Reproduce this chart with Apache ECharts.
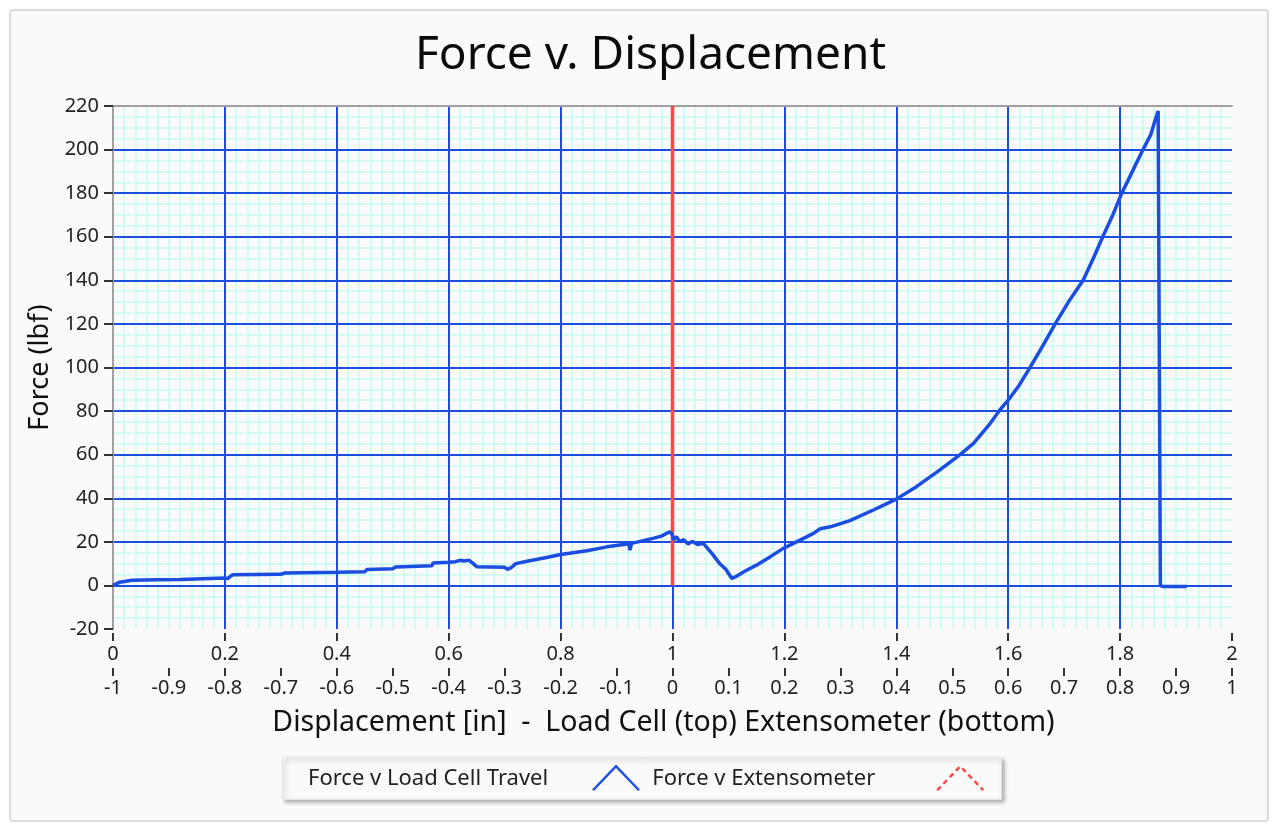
<!DOCTYPE html>
<html>
<head>
<meta charset="utf-8">
<script src="https://cdn.jsdelivr.net/npm/echarts@6/dist/echarts.min.js"></script>
<style>
html,body{margin:0;padding:0;background:#ffffff;}
#chart{width:1278px;height:829px;}
</style>
</head>
<body>
<div id="chart"></div>
<script>
// Force v Load Cell Travel: [load cell travel (in), force (lbf)]
const loadCellTravel = [
  [0,0],[0.005,0.6],[0.012,1.5],[0.02,1.8],[0.034,2.4],[0.08,2.6],[0.12,2.7],[0.123,3.2],
  [0.2,3.4],[0.205,3.1],[0.21,4.2],[0.214,4.9],[0.3,5.1],[0.307,5.7],[0.4,6.0],[0.45,6.3],
  [0.454,7.3],[0.5,7.6],[0.505,8.5],[0.57,9.0],[0.572,10.3],[0.6,10.6],[0.612,10.9],[0.62,11.5],
  [0.628,11.2],[0.636,11.6],[0.642,10.4],[0.65,8.6],[0.7,8.3],[0.705,7.4],[0.712,8.2],[0.72,10.0],
  [0.74,11.1],[0.775,12.8],[0.8,14.2],[0.847,15.9],[0.883,17.7],[0.922,19.1],[0.924,16.2],[0.927,19.3],
  [0.965,21.6],[0.98,22.6],[0.995,24.6],[0.999,23.6],[1.002,21.0],[1.007,22.3],[1.013,20.0],[1.02,21.0],
  [1.028,19.0],[1.035,20.2],[1.045,18.8],[1.055,19.3],[1.07,14.8],[1.085,9.8],[1.095,7.5],[1.106,3.2],
  [1.115,4.3],[1.13,6.6],[1.15,9.3],[1.175,13.2],[1.198,17.0],[1.228,20.8],[1.252,23.9],[1.264,26.0],
  [1.282,26.9],[1.317,29.7],[1.359,34.6],[1.4,39.6],[1.436,45.3],[1.478,53.0],[1.514,60.0],[1.538,65.2],
  [1.568,74.4],[1.585,80.5],[1.6,85.0],[1.62,92.0],[1.639,100.0],[1.662,110.0],[1.684,120.0],[1.71,131.0],
  [1.734,140.0],[1.752,150.0],[1.769,160.0],[1.787,170.0],[1.803,180.0],[1.822,190.0],[1.841,200.0],[1.855,207.0],
  [1.862,213.0],[1.868,217.7],[1.871,217.0],[1.872,0.0],[1.876,-0.5],[1.919,-0.5]
];
// Force v Extensometer: [extensometer displacement (in), force (lbf)]
const extensometer = [[0,0],[0,220]];

const titleText = 'Force v. Displacement';
const xName = 'Displacement [in]  -  Load Cell (top) Extensometer (bottom)';
const yName = 'Force (lbf)';
const seriesNames = ['Force v Load Cell Travel', 'Force v Extensometer'];

const FONT = 'Noto Sans';
const BLUE = '#1a4de0';
const RED = '#ff4646';
const MINOR = '#c4fbf1';

const chart = echarts.init(document.getElementById('chart'), null, {renderer: 'canvas'});
chart.setOption({
  backgroundColor: '#ffffff',
  animation: false,
  textStyle: {fontFamily: FONT},
  graphic: [{
    type: 'rect', z: -10, silent: true,
    shape: {x: 10, y: 10, width: 1258, height: 811, r: 3},
    style: {fill: '#fafafa', stroke: '#dcdcdc', lineWidth: 2}
  }],
  title: {
    text: titleText, left: 410, top: 28,
    textStyle: {fontFamily: FONT, fontSize: 46, fontWeight: 'normal', color: '#0a0a0a'}
  },
  legend: {
    left: 283, top: 758, orient: 'horizontal', align: 'right',
    padding: [7, 17, 8, 25],
    itemGap: 12, itemWidth: 46, itemHeight: 26,
    backgroundColor: '#fafafa', borderColor: '#e4e4e4', borderWidth: 1,
    shadowBlur: 4, shadowColor: 'rgba(0,0,0,0.3)', shadowOffsetX: 2, shadowOffsetY: 2,
    formatter: name => '{t|' + name + '}',
    textStyle: {fontFamily: FONT, fontSize: 22, color: '#222',
      rich: {t: {width: 280, fontFamily: FONT, fontSize: 22, color: '#222', align: 'left'}}},
    data: [
      {name: seriesNames[0], icon: 'path://M0,26 L23,2 L46,26',
       itemStyle: {color: 'rgba(0,0,0,0)', borderColor: BLUE, borderWidth: 2.5}},
      {name: seriesNames[1], icon: 'path://M0,26 L23,2 L46,26',
       itemStyle: {color: 'rgba(0,0,0,0)', borderColor: RED, borderWidth: 2.5, borderType: [5, 4]}}
    ]
  },
  grid: {left: 113, right: 46, top: 106, bottom: 200, show: true, backgroundColor: '#fafafa', borderWidth: 0},
  xAxis: [
    {
      type: 'value', min: 0, max: 2, interval: 0.2, position: 'bottom', offset: 4, z: 3,
      axisLine: {show: false, onZero: false},
      axisTick: {show: true, length: 8, lineStyle: {color: '#333', width: 2}},
      axisLabel: {margin: 11, fontFamily: FONT, fontSize: 20, color: '#222',
                  formatter: v => String(Math.round(v * 10) / 10)},
      splitLine: {show: true, showMinLine: false, showMaxLine: false,
                  lineStyle: {color: BLUE, width: 2, type: 'solid'}}
    },
    {
      type: 'value', min: -1, max: 1, interval: 0.1, position: 'bottom', offset: 39, z: 3,
      axisLine: {show: false, onZero: false},
      axisTick: {show: true, length: 8, lineStyle: {color: '#333', width: 2}},
      axisLabel: {margin: 10, fontFamily: FONT, fontSize: 20, color: '#222',
                  formatter: v => String(Math.round(v * 10) / 10)},
      splitLine: {show: false},
      name: xName, nameLocation: 'middle', nameGap: 40,
      nameTextStyle: {fontFamily: FONT, fontSize: 28.5, color: '#111', padding: [0, 18, 0, 0]}
    },
    {
      type: 'value', min: 0, max: 2, position: 'top', z: 3,
      axisLine: {show: true, onZero: false, lineStyle: {color: '#a0a0a0', width: 2}},
      axisTick: {show: false}, axisLabel: {show: false}, splitLine: {show: false}
    },
    {
      // minor grid (vertical), drawn beneath the major grid
      type: 'value', min: 0, max: 2, interval: 0.2, position: 'bottom', z: 1,
      axisLine: {show: false, onZero: false}, axisTick: {show: false}, axisLabel: {show: false},
      splitLine: {show: false},
      minorTick: {show: false, splitNumber: 10},
      minorSplitLine: {show: true, lineStyle: {color: MINOR, width: 1.5, type: 'solid'}}
    }
  ],
  yAxis: [
    {
      type: 'value', min: -20, max: 220, interval: 20, z: 3,
      axisLine: {show: true, onZero: false, lineStyle: {color: '#a0a0a0', width: 2}},
      axisTick: {show: true, length: 9, lineStyle: {color: '#333', width: 2}},
      axisLabel: {margin: 14, fontFamily: FONT, fontSize: 20, color: '#222'},
      splitLine: {show: true, showMinLine: false, showMaxLine: false,
                  lineStyle: {color: BLUE, width: 2, type: 'solid'}},
      name: yName, nameLocation: 'middle', nameGap: 58,
      nameTextStyle: {fontFamily: FONT, fontSize: 27, color: '#111'}
    },
    {
      // minor grid (horizontal), drawn beneath the major grid
      type: 'value', min: -20, max: 220, interval: 20, z: 1, position: 'left',
      axisLine: {show: false, onZero: false}, axisTick: {show: false}, axisLabel: {show: false},
      splitLine: {show: false},
      minorTick: {show: false, splitNumber: 4},
      minorSplitLine: {show: true, lineStyle: {color: MINOR, width: 1.5, type: 'solid'}}
    }
  ],
  series: [
    {
      name: seriesNames[0], type: 'line', xAxisIndex: 0, yAxisIndex: 0, data: loadCellTravel,
      showSymbol: false, symbol: 'none', z: 5,
      lineStyle: {color: BLUE, width: 3.5}, itemStyle: {color: BLUE}
    },
    {
      name: seriesNames[1], type: 'line', xAxisIndex: 1, yAxisIndex: 0, data: extensometer,
      showSymbol: false, symbol: 'none', z: 4,
      lineStyle: {color: RED, width: 3.5}, itemStyle: {color: RED}
    }
  ]
});
</script>
</body>
</html>
